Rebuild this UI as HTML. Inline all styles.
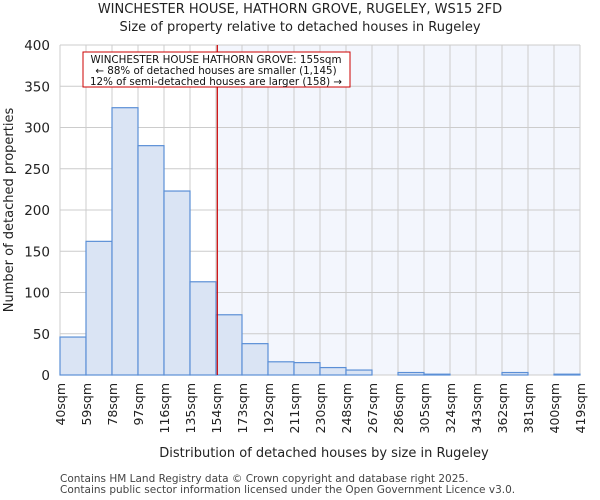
<!DOCTYPE html>
<html><head><meta charset="utf-8"><style>body{margin:0;background:#fff}svg{display:block;font-family:"DejaVu Sans","Liberation Sans",sans-serif}</style></head>
<body>
<svg id="chart" width="600" height="500">
<text x="300" y="13" text-anchor="middle" font-size="13" fill="#222">WINCHESTER HOUSE, HATHORN GROVE, RUGELEY, WS15 2FD</text>
<text x="300" y="31" text-anchor="middle" font-size="13" fill="#222">Size of property relative to detached houses in Rugeley</text>
<g id="plot"></g>
<text x="324" y="457" text-anchor="middle" font-size="13" fill="#222">Distribution of detached houses by size in Rugeley</text>
<text transform="translate(13,210) rotate(-90)" text-anchor="middle" font-size="13" fill="#222">Number of detached properties</text>
<text x="60" y="482" font-size="10.5" fill="#444">Contains HM Land Registry data © Crown copyright and database right 2025.</text>
<text x="60" y="493" font-size="10.5" fill="#444">Contains public sector information licensed under the Open Government Licence v3.0.</text>
</svg>
<script>
const categories=["40sqm","59sqm","78sqm","97sqm","116sqm","135sqm","154sqm","173sqm","192sqm","211sqm","230sqm","248sqm","267sqm","286sqm","305sqm","324sqm","343sqm","362sqm","381sqm","400sqm","419sqm"];
const counts=[46,162,324,278,223,113,73,38,16,15,9,6,0,3,1,0,0,3,0,1];
const yTicks=[0,50,100,150,200,250,300,350,400];
const propertyBinPos=6.05;
const NS="http://www.w3.org/2000/svg";
const X0=60,X1=580,Y0=375,Y1=45,YMAX=400,n=counts.length;
const bw=(X1-X0)/n;
const xs=i=>X0+i*bw;
const ys=v=>Y0-(v/YMAX)*(Y0-Y1);
const g=document.getElementById('plot');
function mk(t,a){const e=document.createElementNS(NS,t);for(const k in a)e.setAttribute(k,a[k]);g.appendChild(e);return e;}
const px=xs(propertyBinPos);
let e=mk('rect',{x:px,y:Y1,width:X1-px,height:Y0-Y1,fill:'#f3f6fd'});


for(let i=0;i<=n;i++){e=mk('line',{x1:xs(i),x2:xs(i),y1:Y1,y2:Y0,stroke:'#ccc'});

}
yTicks.forEach(v=>{e=mk('line',{x1:X0,x2:X1,y1:ys(v),y2:ys(v),stroke:'#ccc'});


const t=mk('text',{x:X0-10,y:ys(v)+5,'text-anchor':'end','font-size':13.5,fill:'#222'});t.textContent=v;

});
counts.forEach((v,i)=>{if(v<=0)return;const r=mk('rect',{x:xs(i),y:ys(v),width:bw,height:Y0-ys(v),fill:'#dae4f4',stroke:'#5b8fd6','stroke-width':1.2});

});
categories.forEach((c,i)=>{const x=xs(i),t=mk('text',{transform:`translate(${x+5},383) rotate(-90)`,'text-anchor':'end','font-size':12.5,fill:'#222'});t.textContent=c;

});
e=mk('line',{x1:px,x2:px,y1:Y1,y2:Y0,stroke:'#c00','stroke-width':1.2});


e=mk('rect',{x:83,y:52,width:267,height:35,fill:'#fff',stroke:'#c00'});


["WINCHESTER HOUSE HATHORN GROVE: 155sqm","← 88% of detached houses are smaller (1,145)","12% of semi-detached houses are larger (158) →"].forEach((s,i)=>{const t=mk('text',{x:216,y:63+i*11,'text-anchor':'middle','font-size':10.3,fill:'#111'});t.textContent=s;

});
</script>
</body></html>
